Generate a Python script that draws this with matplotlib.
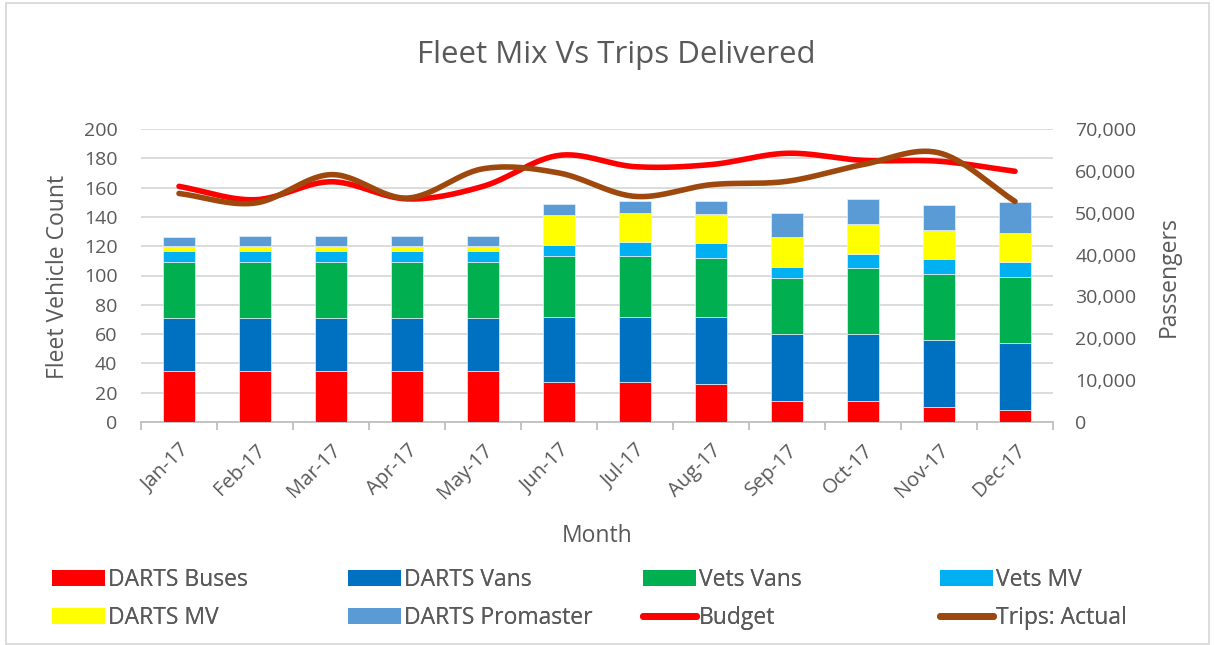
import numpy as np
import matplotlib
matplotlib.use("Agg")
import matplotlib.pyplot as plt
from matplotlib.patches import Rectangle
from matplotlib.lines import Line2D

months = ["Jan-17", "Feb-17", "Mar-17", "Apr-17", "May-17", "Jun-17",
          "Jul-17", "Aug-17", "Sep-17", "Oct-17", "Nov-17", "Dec-17"]
darts_buses = [35, 35, 35, 35, 35, 27, 27, 26, 14, 14, 10, 8]
darts_vans = [36, 36, 36, 36, 36, 45, 45, 46, 46, 46, 46, 46]
vets_vans = [38, 38, 38, 38, 38, 41, 41, 40, 38, 45, 45, 45]
vets_mv = [8, 8, 8, 8, 8, 8, 10, 10, 8, 10, 10, 10]
darts_mv = [3, 3, 3, 3, 3, 20, 20, 20, 20, 20, 20, 20]
darts_promaster = [6, 7, 7, 7, 7, 8, 8, 9, 17, 17, 17, 21]
budget = [56300, 53100, 57400, 53300, 56300, 63700, 61000, 61500, 64200, 62500, 62300, 59900]
trips_actual = [54600, 52300, 59100, 53500, 60500, 59500, 53900, 56700, 57500, 61500, 64300, 52700]

series = [
    ("DARTS Buses", darts_buses, "#FF0000"),
    ("DARTS Vans", darts_vans, "#0070C0"),
    ("Vets Vans", vets_vans, "#00B050"),
    ("Vets MV", vets_mv, "#00B0F0"),
    ("DARTS MV", darts_mv, "#FFFF00"),
    ("DARTS Promaster", darts_promaster, "#5B9BD5"),
]
BUDGET_C = "#FF0000"
TRIPS_C = "#9E480E"

FONT = ["Open Sans", "DejaVu Sans"]
TXT = "#595959"
plt.rcParams["font.family"] = FONT


def smooth(x, y, n=30):
    # Bezier curve through the data points (Excel smoothed line look)
    x = np.asarray(x, float)
    y = np.asarray(y, float)
    px = np.concatenate([[2 * x[0] - x[1]], x, [2 * x[-1] - x[-2]]])
    py = np.concatenate([[2 * y[0] - y[1]], y, [2 * y[-1] - y[-2]]])
    xs, ys = [], []
    a = 1 / 6.0
    for i in range(1, len(px) - 2):
        t = np.linspace(0, 1, n, endpoint=(i == len(px) - 3))
        p0, p1, p2, p3 = py[i - 1], py[i], py[i + 1], py[i + 2]
        q0, q1, q2, q3 = px[i - 1], px[i], px[i + 1], px[i + 2]
        c1y = p1 + (p2 - p0) * a
        c2y = p2 - (p3 - p1) * a
        c1x = q1 + (q2 - q0) * a
        c2x = q2 - (q3 - q1) * a
        ys.append((1 - t) ** 3 * p1 + 3 * (1 - t) ** 2 * t * c1y + 3 * (1 - t) * t ** 2 * c2y + t ** 3 * p2)
        xs.append((1 - t) ** 3 * q1 + 3 * (1 - t) ** 2 * t * c1x + 3 * (1 - t) * t ** 2 * c2x + t ** 3 * q2)
    return np.concatenate(xs), np.concatenate(ys)


fig = plt.figure(figsize=(12.15, 6.45), dpi=100)
W, H = 1215, 645
left, right, top, bottom = 141, 1053, 129, 422
ax = fig.add_axes([left / W, 1 - bottom / H, (right - left) / W, (bottom - top) / H])
x = np.arange(len(months))

base = np.zeros(len(months))
for name, vals, col in series:
    ax.bar(x, vals, bottom=base, width=0.41, color=col, edgecolor="#E8F0F8", linewidth=0.5, zorder=3)
    base = base + np.array(vals)

ax.set_xlim(-0.5, len(months) - 0.5)
ax.set_ylim(0, 200)
ax.set_yticks(range(0, 201, 20))
ax.grid(axis="y", color="#D9D9D9", linewidth=1.3, zorder=0)
ax.set_axisbelow(True)
for s in ["top", "right", "left"]:
    ax.spines[s].set_visible(False)
ax.spines["bottom"].set_color("#BFBFBF")
ax.spines["bottom"].set_linewidth(1.3)
ax.set_xticks(x)
ax.set_xticklabels(months, rotation=45, ha="right", rotation_mode="anchor",
                   fontsize=14.5, color=TXT)
ax.tick_params(axis="x", length=0, pad=13)
ax.set_xticks(np.arange(-0.5, len(months)), minor=True)
ax.tick_params(axis="x", which="minor", length=6, color="#BFBFBF", width=1.3)
ax.tick_params(axis="y", length=0, labelsize=14, labelcolor=TXT, pad=17)

ax2 = ax.twinx()
ax2.set_ylim(0, 70000)
ax2.set_yticks(range(0, 70001, 10000))
ax2.yaxis.set_major_formatter(matplotlib.ticker.FuncFormatter(lambda v, p: f"{int(v):,}"))
ax2.tick_params(axis="y", length=0, labelsize=14, labelcolor=TXT, pad=16)
for s in ax2.spines.values():
    s.set_visible(False)

bx, by = smooth(x, budget)
ax2.plot(bx, by, color=BUDGET_C, linewidth=4, solid_capstyle="round", zorder=4)
tx, ty = smooth(x, trips_actual)
ax2.plot(tx, ty, color=TRIPS_C, linewidth=4, solid_capstyle="round", zorder=5)

fig.text(616 / W, 1 - 55 / H, "Fleet Mix Vs Trips Delivered", ha="center", va="center",
         fontsize=22.5, color=TXT)
fig.text(58 / W, 1 - 277 / H, "Fleet Vehicle Count", rotation=90, ha="center", va="center",
         fontsize=16.5, color=TXT)
fig.text(1169 / W, 1 - 277 / H, "Passengers", rotation=90, ha="center", va="center",
         fontsize=16.5, color=TXT)
fig.text(597 / W, 1 - 536 / H, "Month", ha="center", va="center", fontsize=16.5, color=TXT)

handles = [Rectangle((0, 0), 1, 1, facecolor=c) for _, _, c in series]
labels = [n for n, _, _ in series]
handles.append(Line2D([0], [0], color=BUDGET_C, linewidth=5, solid_capstyle="round"))
labels.append("Budget")
handles.append(Line2D([0], [0], color=TRIPS_C, linewidth=5, solid_capstyle="round"))
labels.append("Trips: Actual")

col_x = [52, 348, 643, 940]
for c in range(4):
    idx = [c, c + 4]
    leg = fig.legend([handles[i] for i in idx], [labels[i] for i in idx],
                     loc="center left", bbox_to_anchor=(col_x[c] / W, 1 - 599 / H),
                     ncol=1, frameon=False, fontsize=16.5, labelcolor=TXT,
                     handlelength=2.3, handleheight=0.7, handletextpad=0.15,
                     labelspacing=0.58, borderpad=0, borderaxespad=0)
    fig.add_artist(leg)

fig.add_artist(Rectangle((6 / W, 0.002), (W - 12) / W, 0.994, transform=fig.transFigure,
                         fill=False, edgecolor="#D9D9D9", linewidth=1.3))

fig.savefig("out.png", dpi=100)
